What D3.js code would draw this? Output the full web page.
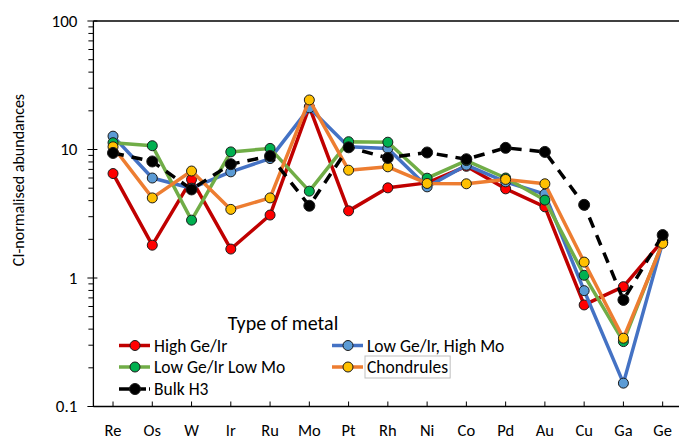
<!DOCTYPE html>
<html>
<head>
<meta charset="utf-8">
<script src="https://cdn.jsdelivr.net/npm/d3@7"></script>
<style>
  html, body { margin: 0; padding: 0; background: #fff; }
  svg { display: block; font-family: Carlito, Lato, "Open Sans", sans-serif; }
</style>
</head>
<body>
<svg id="chart" width="679" height="439"></svg>
<script>
// Elements along the x axis
const categories = ["Re","Os","W","Ir","Ru","Mo","Pt","Rh","Ni","Co","Pd","Au","Cu","Ga","Ge"];

// CI-normalised abundances per metal type
const highGeIr       = [6.5, 1.80, 5.85, 1.68, 3.09, 21.5, 3.33, 5.03, 5.5, 7.4, 4.94, 3.58, 0.617, 0.856, 1.95];
const lowGeIrHighMo  = [12.7, 6.0, 5.0, 6.7, 8.5, 21.1, 10.5, 10.2, 5.12, 7.55, 5.6, 4.5, 0.797, 0.152, 1.9];
const lowGeIrLowMo   = [11.3, 10.7, 2.82, 9.58, 10.2, 4.74, 11.5, 11.4, 5.98, 8.2, 6.0, 4.04, 1.05, 0.32, 1.9];
const chondrules     = [10.5, 4.2, 6.8, 3.42, 4.2, 24.3, 6.9, 7.33, 5.44, 5.41, 5.85, 5.41, 1.33, 0.34, 1.86];
const bulkH3         = [9.4, 8.07, 4.89, 7.69, 8.9, 3.65, 10.4, 8.6, 9.48, 8.4, 10.3, 9.58, 3.71, 0.675, 2.16];

const yTickValues = [0.1, 1, 10, 100];
const yTickLabels = ["0.1", "1", "10", "100"];

const seriesNames = ["High Ge/Ir", "Low Ge/Ir, High Mo", "Low Ge/Ir Low Mo", "Chondrules", "Bulk H3"];

const series = [
  { name: seriesNames[0], values: highGeIr,      line: "#C00000", fill: "#FF0000", dash: null, r: 5 },
  { name: seriesNames[1], values: lowGeIrHighMo, line: "#4472C4", fill: "#5B9BD5", dash: null, r: 5 },
  { name: seriesNames[2], values: lowGeIrLowMo,  line: "#70AD47", fill: "#00B050", dash: null, r: 5 },
  { name: seriesNames[3], values: chondrules,    line: "#ED7D31", fill: "#FFC000", dash: null, r: 5 },
  { name: seriesNames[4], values: bulkH3,        line: "#000000", fill: "#000000", dash: "11,8", r: 5.5 }
];

const svg = d3.select("#chart");
const plot = { left: 93.4, right: 682.3, top: 21, bottom: 406.5 };

const x = d3.scalePoint().domain(categories).range([plot.left, plot.right]).padding(0.5);
const y = d3.scaleLog().domain([0.1, 100]).range([plot.bottom, plot.top]);

// top frame line
svg.append("line")
  .attr("x1", plot.left).attr("x2", plot.right)
  .attr("y1", plot.top).attr("y2", plot.top)
  .attr("stroke", "#000").attr("stroke-width", 1.3);

// y axis: minor ticks outward, major ticks crossing
const minor = [];
for (let d = 0.1; d < 100; d *= 10) for (let k = 2; k <= 9; k++) minor.push(d * k);
const yAxisG = svg.append("g");
yAxisG.append("line")
  .attr("x1", plot.left).attr("x2", plot.left)
  .attr("y1", plot.top).attr("y2", plot.bottom)
  .attr("stroke", "#000").attr("stroke-width", 1.3);
yAxisG.selectAll("line.minor").data(minor).join("line")
  .attr("class", "minor")
  .attr("x1", plot.left - 5).attr("x2", plot.left)
  .attr("y1", d => y(d)).attr("y2", d => y(d))
  .attr("stroke", "#000").attr("stroke-width", 1);
yAxisG.selectAll("line.major").data(yTickValues).join("line")
  .attr("class", "major")
  .attr("x1", plot.left - 6).attr("x2", plot.left + 4)
  .attr("y1", d => y(d)).attr("y2", d => y(d))
  .attr("stroke", "#000").attr("stroke-width", 1);
yAxisG.selectAll("text").data(yTickValues).join("text")
  .attr("x", plot.left - 16)
  .attr("y", d => y(d))
  .attr("dy", "0.35em")
  .attr("text-anchor", "end")
  .attr("font-size", 17)
  .attr("fill", "#000")
  .text((d, i) => yTickLabels[i]);

// x axis with inward ticks at category centres
const xAxisG = svg.append("g");
xAxisG.append("line")
  .attr("x1", plot.left).attr("x2", plot.right)
  .attr("y1", plot.bottom).attr("y2", plot.bottom)
  .attr("stroke", "#000").attr("stroke-width", 1.3);
xAxisG.selectAll("line.tick").data(categories).join("line")
  .attr("class", "tick")
  .attr("x1", d => x(d)).attr("x2", d => x(d))
  .attr("y1", plot.bottom - 5).attr("y2", plot.bottom)
  .attr("stroke", "#000").attr("stroke-width", 1);
xAxisG.selectAll("text").data(categories).join("text")
  .attr("x", d => x(d))
  .attr("y", 436)
  .attr("text-anchor", "middle")
  .attr("font-size", 16.5)
  .attr("fill", "#000")
  .text(d => d);

// y axis title
svg.append("text")
  .attr("transform", "translate(24,180) rotate(-90)")
  .attr("text-anchor", "middle")
  .attr("font-size", 16)
  .attr("fill", "#000")
  .text("CI-normalised abundances");

// series lines and markers
const line = d3.line().x((d, i) => x(categories[i])).y(d => y(d));
series.forEach(s => {
  svg.append("path")
    .datum(s.values)
    .attr("d", line)
    .attr("fill", "none")
    .attr("stroke", s.line)
    .attr("stroke-width", 3.5)
    .attr("stroke-linejoin", "round")
    .attr("stroke-dasharray", s.dash);
  svg.append("g").selectAll("circle").data(s.values).join("circle")
    .attr("cx", (d, i) => x(categories[i]))
    .attr("cy", d => y(d))
    .attr("r", s.r)
    .attr("fill", s.fill)
    .attr("stroke", "#1a1a1a")
    .attr("stroke-width", 1);
});

// legend
svg.append("text")
  .attr("x", 283).attr("y", 330)
  .attr("text-anchor", "middle")
  .attr("font-size", 20)
  .attr("fill", "#000")
  .text("Type of metal");

const legendPos = [
  { x: 119, y: 345.5 }, { x: 332, y: 345.5 },
  { x: 119, y: 367 },   { x: 332, y: 367 },
  { x: 119, y: 389 }
];
series.forEach((s, i) => {
  const p = legendPos[i];
  const g = svg.append("g").attr("transform", `translate(${p.x},${p.y})`);
  g.append("line")
    .attr("x1", 0).attr("x2", 31).attr("y1", 0).attr("y2", 0)
    .attr("stroke", s.line).attr("stroke-width", 3.5)
    .attr("stroke-dasharray", s.dash ? "12,3" : null);
  g.append("circle")
    .attr("cx", 16).attr("cy", 0).attr("r", s.r)
    .attr("fill", s.fill).attr("stroke", "#1a1a1a").attr("stroke-width", 1);
  g.append("text")
    .attr("x", 35).attr("y", 0).attr("dy", "0.35em")
    .attr("font-size", 17.5).attr("fill", "#000")
    .text(s.name);
  if (s.name === "Chondrules") {
    const bb = g.select("text").node().getBBox();
    g.insert("rect", "text")
      .attr("x", bb.x - 2).attr("y", -11)
      .attr("width", bb.width + 4).attr("height", 22)
      .attr("fill", "none").attr("stroke", "#bfbfbf").attr("stroke-width", 1);
  }
});
</script>
</body>
</html>
